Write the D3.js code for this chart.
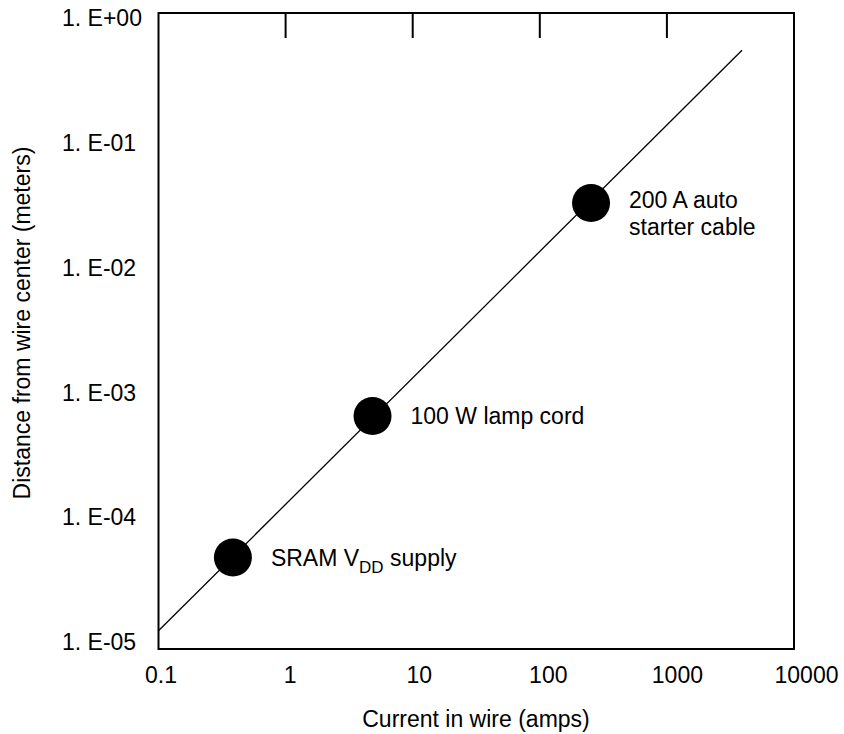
<!DOCTYPE html>
<html>
<head>
<meta charset="utf-8">
<script src="https://cdn.jsdelivr.net/npm/d3@7"></script>
<style>
  body { margin: 0; background: #fff; }
  text { font-family: "Liberation Sans", Arial, Helvetica, sans-serif; fill: #000; }
</style>
</head>
<body>
<svg id="chart" width="844" height="734"></svg>
<script>
// values
const xTicks = [0.1, 1, 10, 100, 1000, 10000];
const yTicks = [1, 1e-1, 1e-2, 1e-3, 1e-4, 1e-5];
const topTicks = [1, 10, 100, 1000];

const wireCurrent = [0.385, 4.83, 253];
const wireDistance = [5.24e-5, 6.79e-4, 0.0321];
const wireNames = ["SRAM", "100 W lamp cord", "200 A auto|starter cable"];

const fitCurrent = [0.1, 3900];
const fitDistance = [1.39e-5, 0.51];

const svg = d3.select("#chart");

const plotLeft = 158.5, plotRight = 794, plotTop = 13, plotBottom = 649;
const fontSize = 23;

const x = d3.scaleLog().domain([0.1, 10000]).range([plotLeft, plotRight]);
const y = d3.scaleLog().domain([1e-5, 1]).range([plotBottom, plotTop]);

// labels in the original sit a little off the grid
const xLabel = d3.scaleLog().domain(x.domain()).range([161, 806.5]);
const yLabel = d3.scaleLog().domain(y.domain()).range([642, 18]);

function sciLabel(v) {
    const e = Math.round(Math.log10(v));
    const s = String(Math.abs(e)).padStart(2, "0");
    return "1. E" + (e < 0 ? "-" : "+") + s;
}

// fit line
const line = d3.line()
    .x(d => x(d[0]))
    .y(d => y(d[1]));

svg.append("path")
    .datum(d3.zip(fitCurrent, fitDistance))
    .attr("d", line)
    .attr("fill", "none")
    .attr("stroke", "#000")
    .attr("stroke-width", 1.3);

// frame
svg.append("rect")
    .attr("x", plotLeft)
    .attr("y", plotTop)
    .attr("width", plotRight - plotLeft)
    .attr("height", plotBottom - plotTop)
    .attr("fill", "none")
    .attr("stroke", "#000")
    .attr("stroke-width", 2);

// ticks on the top edge, pointing in
svg.append("g")
    .selectAll("line")
    .data(topTicks)
    .enter()
    .append("line")
    .attr("x1", d => x(d))
    .attr("x2", d => x(d))
    .attr("y1", plotTop)
    .attr("y2", plotTop + 25)
    .attr("stroke", "#000")
    .attr("stroke-width", 2);

// x tick labels
svg.append("g")
    .selectAll("text")
    .data(xTicks)
    .enter()
    .append("text")
    .attr("x", d => xLabel(d))
    .attr("y", 683)
    .attr("text-anchor", "middle")
    .style("font-size", fontSize + "px")
    .text(d => d3.format("~g")(d));

// y tick labels
svg.append("g")
    .selectAll("text")
    .data(yTicks)
    .enter()
    .append("text")
    .attr("x", 62)
    .attr("y", d => yLabel(d))
    .attr("dy", "0.36em")
    .style("font-size", fontSize + "px")
    .text(d => sciLabel(d));

// axis titles
svg.append("text")
    .attr("x", 476)
    .attr("y", 727)
    .attr("text-anchor", "middle")
    .style("font-size", fontSize + "px")
    .text("Current in wire (amps)");

svg.append("text")
    .attr("transform", "translate(30,323) rotate(-90)")
    .attr("text-anchor", "middle")
    .style("font-size", fontSize + "px")
    .text("Distance from wire center (meters)");

// points
const points = d3.range(wireCurrent.length).map(i => ({
    current: wireCurrent[i],
    distance: wireDistance[i],
    name: wireNames[i]
}));

svg.append("g")
    .selectAll("circle")
    .data(points)
    .enter()
    .append("circle")
    .attr("cx", d => x(d.current))
    .attr("cy", d => y(d.distance))
    .attr("r", 19)
    .attr("fill", "#000");

const labels = svg.append("g")
    .selectAll("text")
    .data(points)
    .enter()
    .append("text")
    .attr("x", d => x(d.current) + 38)
    .attr("y", d => y(d.distance))
    .style("font-size", fontSize + "px");

labels.each(function (d) {
    const t = d3.select(this);
    if (d.name === "SRAM") {
        t.attr("dy", "0.36em");
        t.append("tspan").text("SRAM V");
        t.append("tspan").attr("dy", 7).style("font-size", "17px").text("DD");
        t.append("tspan").attr("dy", -7).text(" supply");
        return;
    }
    const lines = d.name.split("|");
    lines.forEach((s, i) => {
        t.append("tspan")
            .attr("x", x(d.current) + 38)
            .attr("dy", i === 0 ? "0.2em" : 27)
            .text(s);
    });
    if (lines.length === 1) t.select("tspan").attr("dy", "0.36em");
});
</script>
</body>
</html>
